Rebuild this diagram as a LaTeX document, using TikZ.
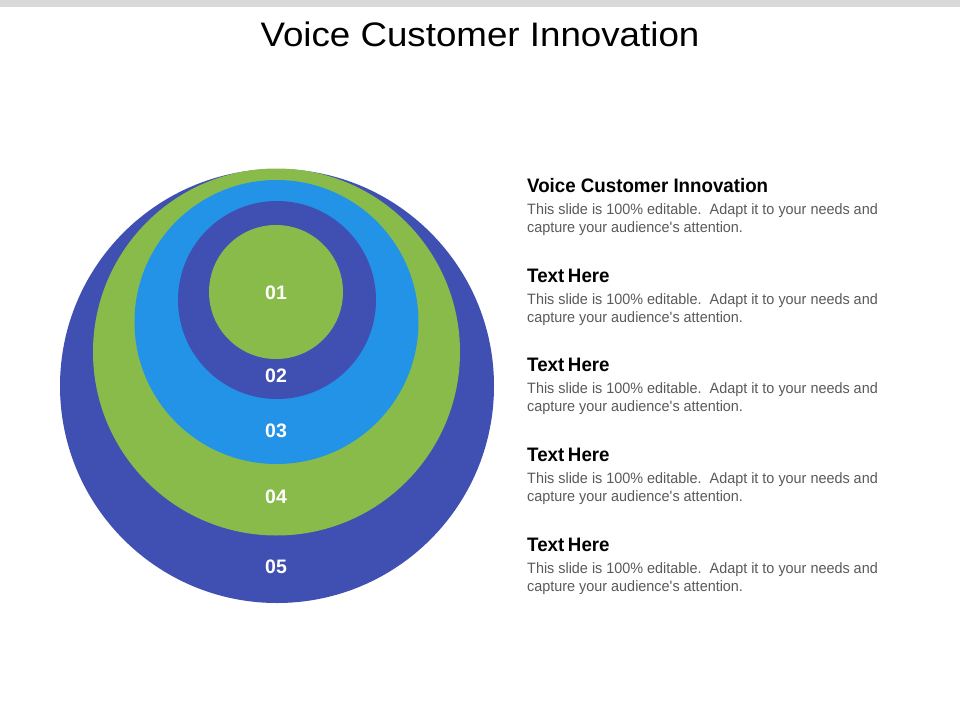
\documentclass[tikz,border=0pt]{standalone}
\usepackage{fontspec}
\setmainfont{Liberation Sans}
\newfontfamily\titlefont[FakeStretch=1.08]{Liberation Sans}
\newfontfamily\headfont[FakeStretch=0.96]{Liberation Sans}
\newfontfamily\bodyfont[FakeStretch=0.96]{Liberation Sans}
\definecolor{indigo}{HTML}{3F4FB2}
\definecolor{lgreen}{HTML}{88BB4A}
\definecolor{lblue}{HTML}{2393E8}
\definecolor{bodygray}{HTML}{5A5A5A}
\definecolor{bargray}{HTML}{D9D9D9}
\tikzset{
  x=1pt, y=-1pt,
  ring/.style={circle, inner sep=0pt, minimum size=#1},
  num/.style={text=white, font=\bfseries\fontsize{19.5}{19.5}\selectfont, inner sep=0pt},
  head/.style={anchor=base west, inner sep=0pt, font=\headfont\bfseries\fontsize{19.5}{22}\selectfont, text=black},
  body/.style={anchor=base west, inner sep=0pt, font=\bodyfont\fontsize{15}{18}\selectfont, text=bodygray},
}
\newcommand{\bodyA}{This slide is 100\% editable.\ \ Adapt it to your needs and}
\newcommand{\bodyB}{capture your audience\textquotesingle s attention.}
\begin{document}
\begin{tikzpicture}
\useasboundingbox (0,0) rectangle (960,720);
\fill[white] (0,0) rectangle (960,720);
\fill[bargray] (0,0) rectangle (960,7);
\node[font=\titlefont\fontsize{34}{34}\selectfont, inner sep=0pt, anchor=base] (title) at (480,46.7) {Voice Customer Innovation};
% circles
\node[ring=434, fill=indigo] (c5) at (277,386) {};
\node[ring=367, fill=lgreen] (c4) at (276.5,352) {};
\node[ring=284, fill=lblue] (c3) at (276.5,322) {};
\node[ring=198, fill=indigo] (c2) at (277,300) {};
\node[ring=134, fill=lgreen] (c1) at (276,292) {};
\node[num] (n1) at (276,293) {01};
\node[num] (n2) at (276,376) {02};
\node[num] (n3) at (276,431) {03};
\node[num] (n4) at (276,497) {04};
\node[num] (n5) at (276,567) {05};
% texts
\node[head] (h1) at (527,192.5) {Voice Customer Innovation};
\node[body] (b1a) at (527,214) {\bodyA};
\node[body] (b1b) at (527,232) {\bodyB};
\node[head] (h2) at (527,282) {Text\kern-1.5pt\ Here};
\node[body] (b2a) at (527,304) {\bodyA};
\node[body] (b2b) at (527,322) {\bodyB};
\node[head] (h3) at (527,371.5) {Text\kern-1.5pt\ Here};
\node[body] (b3a) at (527,393) {\bodyA};
\node[body] (b3b) at (527,411) {\bodyB};
\node[head] (h4) at (527,461.5) {Text\kern-1.5pt\ Here};
\node[body] (b4a) at (527,483) {\bodyA};
\node[body] (b4b) at (527,501) {\bodyB};
\node[head] (h5) at (527,551) {Text\kern-1.5pt\ Here};
\node[body] (b5a) at (527,573) {\bodyA};
\node[body] (b5b) at (527,591) {\bodyB};
\end{tikzpicture}
\end{document}
